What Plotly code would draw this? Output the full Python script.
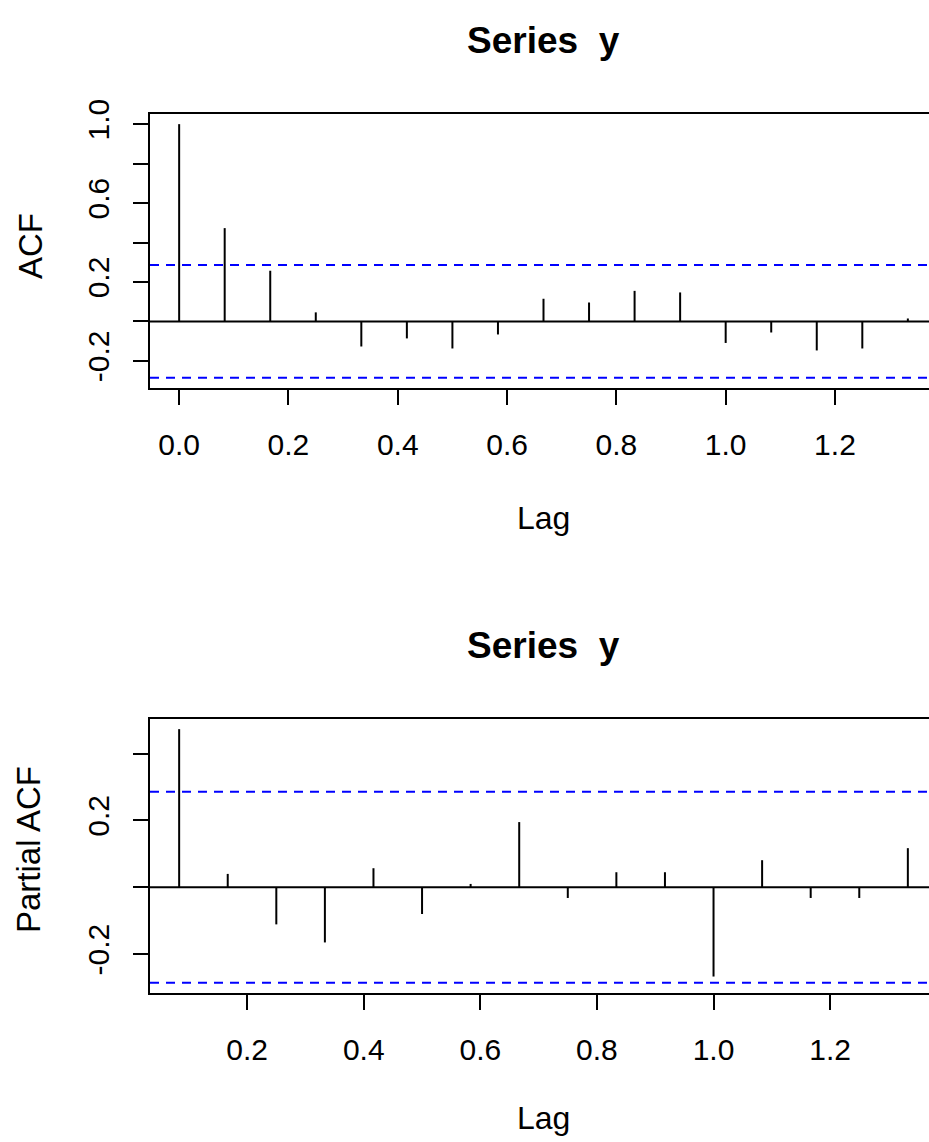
import plotly.graph_objects as go

# ---------------- data ----------------
n_obs = 47
frequency = 12
acf_lags = list(range(0, 17))
acf_values = [1.0, 0.473, 0.257, 0.046, -0.127, -0.086, -0.137, -0.066,
              0.115, 0.096, 0.155, 0.147, -0.109, -0.056, -0.147, -0.137, 0.015]
pacf_lags = list(range(1, 17))
pacf_values = [0.473, 0.040, -0.111, -0.165, 0.057, -0.080, 0.010, 0.195,
               -0.032, 0.045, 0.045, -0.267, 0.081, -0.032, -0.032, 0.117]
acf_xticks = [0.0, 0.2, 0.4, 0.6, 0.8, 1.0, 1.2]
pacf_xticks = [0.2, 0.4, 0.6, 0.8, 1.0, 1.2]
acf_yticks = [-0.2, 0.0, 0.2, 0.4, 0.6, 0.8, 1.0]
acf_ytick_labels = ["-0.2", "", "0.2", "", "0.6", "", "1.0"]
pacf_yticks = [-0.2, 0.0, 0.2, 0.4]
pacf_ytick_labels = ["-0.2", "", "0.2", ""]
title_text = "Series  y"

ci = 1.96 / n_obs ** 0.5

W, H = 929, 1142
FONT = "Liberation Sans, Arial, sans-serif"


def stems(lags, vals):
    xs, ys = [], []
    for k, v in zip(lags, vals):
        xs += [k / frequency, k / frequency, None]
        ys += [0, v, None]
    return xs, ys


def r_lim(lo, hi):
    r = hi - lo
    return lo - 0.04 * r, hi + 0.04 * r


# box geometry in pixels (the right border is beyond the window)
box_left, box_right_full = 150, 937
vis_right = W


def xrange_for(lo, hi):
    a, b = r_lim(lo, hi)
    return [a, a + (b - a) * (vis_right - box_left) / (box_right_full - box_left)]


fig = go.Figure()

ax, ay = stems(acf_lags, acf_values)
fig.add_trace(go.Scatter(x=ax, y=ay, mode="lines", line=dict(color="black", width=2),
                         xaxis="x", yaxis="y", hoverinfo="skip"))
px_, py_ = stems(pacf_lags, pacf_values)
fig.add_trace(go.Scatter(x=px_, y=py_, mode="lines", line=dict(color="black", width=2),
                         xaxis="x2", yaxis="y2", hoverinfo="skip"))

acf_xr = xrange_for(0, max(acf_lags) / frequency)
acf_yr = list(r_lim(min(min(acf_values), -ci), max(max(acf_values), ci)))
pacf_xr = xrange_for(min(pacf_lags) / frequency, max(pacf_lags) / frequency)
pacf_yr = list(r_lim(min(min(pacf_values), -ci), max(max(pacf_values), ci)))

top1, bot1 = 114, 388
top2, bot2 = 719, 993


def ydom(t, b):
    return [1 - b / H, 1 - t / H]


common_x = dict(showline=True, mirror=True, linecolor="black", linewidth=2,
                ticks="outside", ticklen=15, tickwidth=2, tickcolor="black",
                showgrid=False, zeroline=False, tickformat=".1f", automargin=False,
                ticklabelstandoff=14,
                tickfont=dict(family=FONT, size=30, color="black"))
common_y = dict(showline=True, mirror=False, linecolor="black", linewidth=2,
                ticks="outside", ticklen=15, tickwidth=2, tickcolor="black",
                showgrid=False, zeroline=False, tickangle=-90, automargin=False,
                ticklabelstandoff=12,
                tickfont=dict(family=FONT, size=30, color="black"))

fig.update_layout(
    template="none",
    width=W, height=H, margin=dict(l=0, r=0, t=0, b=0, pad=0),
    paper_bgcolor="white", plot_bgcolor="white", showlegend=False,
    xaxis=dict(domain=[box_left / W, 1], range=acf_xr, anchor="y",
               tickvals=acf_xticks, **common_x),
    yaxis=dict(domain=ydom(top1, bot1), range=acf_yr, anchor="x",
               tickvals=acf_yticks, ticktext=acf_ytick_labels, **common_y),
    xaxis2=dict(domain=[box_left / W, 1], range=pacf_xr, anchor="y2",
                tickvals=pacf_xticks, **common_x),
    yaxis2=dict(domain=ydom(top2, bot2), range=pacf_yr, anchor="x2",
                tickvals=pacf_yticks, ticktext=pacf_ytick_labels, **common_y),
)

# zero lines and confidence bounds
for xr, yr in (("x domain", "y"), ("x2 domain", "y2")):
    fig.add_shape(type="line", xref=xr, yref=yr, x0=0, x1=1, y0=0, y1=0,
                  line=dict(color="black", width=2))
    for c in (ci, -ci):
        fig.add_shape(type="line", xref=xr, yref=yr, x0=0, x1=1, y0=c, y1=c,
                      line=dict(color="#0000FF", width=2, dash="9px,7px"))


def ann(text, x_px, y_px, size, bold=False, angle=0):
    fig.add_annotation(text=("<b>%s</b>" % text) if bold else text,
                       x=x_px / W, y=1 - y_px / H, xref="paper", yref="paper",
                       showarrow=False, textangle=angle,
                       xanchor="center", yanchor="middle",
                       font=dict(family=FONT, size=size, color="black"))


mid = (box_left + box_right_full) / 2
ann(title_text, mid, 40, 37, bold=True)
ann(title_text, mid, 645, 37, bold=True)
ann("Lag", mid, 518, 32)
ann("Lag", mid, 1118, 32)
ann("ACF", 30, 246, 33, angle=-90)
ann("Partial ACF", 28, 850, 33, angle=-90)

fig.write_html("out.html")
